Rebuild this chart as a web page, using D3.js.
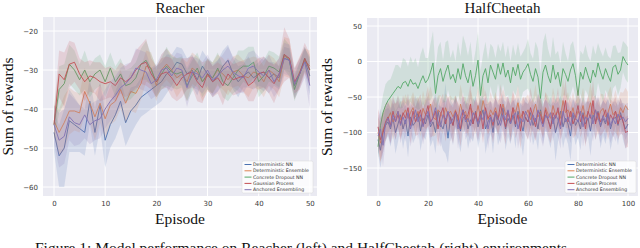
<!DOCTYPE html>
<html>
<head>
<meta charset="utf-8">
<script src="https://cdn.jsdelivr.net/npm/d3@7"></script>
<style>
  body { margin: 0; background: #fff; }
  svg { display: block; }
</style>
</head>
<body>
<div id="chart"></div>
<script>
// legend names + seaborn "deep" colours
const seriesNames = ["Deterministic NN", "Deterministic Ensemble", "Concrete Dropout NN", "Gaussian Process", "Anchored Ensembling"]
const seriesColors = ["#4c72b0", "#dd8452", "#55a868", "#c44e52", "#8172b3"]

// ---------------- Reacher (episodes 0..50) ----------------
const reacherTicksX = [0, 10, 20, 30, 40, 50]
const reacherTicksY = [-20, -30, -40, -50, -60]

const reacherDetNN = [-46, -52, -50, -43, -44, -45, -46, -38, -46, -39,
  -48, -44, -41.5, -38, -43.5, -40.5, -39, -37, -36, -35,
  -34, -33, -31, -30, -28, -28.5, -31, -30, -32.5, -29,
  -31, -33, -31.5, -29, -27.5, -31, -33, -31.5, -30.5, -32,
  -31, -30.5, -32, -31, -32, -27, -27.5, -34, -31, -27.5,
  -31.5]
const reacherDetEns = [-43, -46, -43.5, -40.5, -40.5, -41, -35.5, -38.5, -42, -38.5,
  -42.5, -39, -38, -35, -38.5, -35.5, -36, -33.5, -29, -29.5,
  -34, -30, -28.5, -30, -32, -31, -33, -29.5, -30.5, -33,
  -31.5, -32, -30, -31, -32.5, -30.5, -30, -31.5, -32, -30.5,
  -31, -33, -30, -31, -33, -26.5, -27, -33.5, -30.5, -27.5,
  -29]
const reacherDropout = [-44, -35, -33.5, -28.5, -30, -32.5, -30, -33, -31, -30,
  -33, -29.5, -33, -31, -34, -33.5, -32, -28.5, -27.5, -30,
  -33, -31, -29, -30.5, -31, -30.5, -34, -31.5, -29.5, -33,
  -31, -32, -29.5, -33, -34, -32, -30, -29, -29, -28,
  -33, -31.5, -29, -29.5, -30.5, -26, -27.5, -35, -31, -27,
  -30]
const reacherGP = [-44, -31, -32.5, -28.5, -28, -31, -33, -31.5, -32, -33,
  -33.5, -33, -34, -32, -33, -32, -30, -28.5, -28, -31,
  -33, -31, -30.5, -32, -34, -32, -31, -30.5, -33, -34.5,
  -31, -33, -32, -34, -31, -32.5, -32, -31.5, -34, -33,
  -31, -30.5, -32, -33.5, -31, -26, -27, -33, -31, -27,
  -30]
const reacherAnchored = [-44, -48, -47, -42, -43.5, -44, -41.5, -44, -43, -42.5,
  -40, -38, -36.5, -34.5, -33.5, -32, -29.5, -30, -30.5, -33.5,
  -32.5, -30, -29.5, -31.5, -29.5, -30, -34.5, -30.5, -31, -32,
  -30, -32.5, -31.5, -30, -29, -30.5, -31.5, -32, -29.5, -29,
  -30.5, -31.5, -30, -33, -31, -27, -27.5, -33.5, -31, -28,
  -34]

// spread of the shaded bands
const reacherDetNNStd = [5, 8, 10, 8, 7, 6, 6, 6, 6, 6,
  7, 6, 6, 6, 6, 6, 5, 5, 5, 5,
  5, 5, 5, 4, 4, 4, 4, 4, 4, 4,
  4, 4, 4, 4, 4, 4, 4, 3, 4, 3,
  3, 4, 4, 3, 3, 3, 3, 3, 3, 3,
  5]
const reacherDetEnsStd = [4, 6, 7, 6, 5, 5, 6, 5, 6, 5,
  5, 5, 5, 5, 5, 5, 5, 4, 4, 4,
  4, 4, 4, 4, 5, 4, 5, 4, 4, 5,
  4, 4, 4, 4, 4, 4, 4, 4, 5, 4,
  4, 4, 4, 4, 4, 5, 5, 4, 4, 3,
  4]
const reacherDropoutStd = [4, 6, 5, 5, 5, 4, 5, 4, 4, 4,
  4, 4, 4, 4, 4, 4, 4, 4, 5, 4,
  4, 4, 5, 4, 4, 4, 4, 4, 4, 4,
  4, 4, 4, 4, 4, 4, 5, 4, 5, 4,
  4, 4, 4, 4, 4, 4, 4, 3, 3, 3,
  3]
const reacherGPStd = [4, 6, 7, 6, 5, 4, 5, 4, 4, 5,
  4, 4, 4, 4, 4, 4, 5, 5, 6, 4,
  4, 4, 4, 5, 4, 5, 4, 4, 5, 4,
  4, 4, 4, 5, 4, 4, 4, 4, 4, 5,
  4, 4, 4, 5, 4, 7, 5, 3, 4, 4,
  4]
const reacherAnchoredStd = [5, 7, 7, 6, 6, 5, 6, 5, 5, 5,
  5, 5, 5, 5, 5, 4, 5, 5, 5, 4,
  4, 4, 5, 4, 4, 4, 5, 4, 4, 4,
  4, 4, 4, 4, 5, 4, 4, 4, 4, 4,
  4, 4, 4, 4, 4, 4, 4, 4, 4, 4,
  6]

// ---------------- HalfCheetah (episodes 0..100) ----------------
const cheetahTicksX = [0, 20, 40, 60, 80, 100]
const cheetahTicksY = [50, 0, -50, -100, -150]

const cheetahDetNN = [-110, -125, -100, -90, -85, -95, -80, -100, -88, -75,
  -95, -82, -105, -78, -90, -85, -72, -98, -80, -88,
  -75, -92, -85, -100, -70, -88, -95, -80, -108, -78,
  -90, -72, -85, -98, -80, -75, -95, -82, -88, -70,
  -92, -80, -68, -95, -85, -78, -100, -72, -90, -82,
  -65, -95, -80, -88, -75, -92, -70, -85, -98, -78,
  -85, -72, -90, -80, -95, -68, -88, -75, -82, -92,
  -78, -100, -85, -70, -92, -80, -88, -105, -75, -90,
  -82, -95, -72, -88, -80, -98, -75, -85, -70, -92,
  -80, -88, -75, -95, -82, -78, -90, -72, -85, -95,
  -88]
const cheetahDetEns = [-100, -115, -95, -88, -80, -72, -85, -78, -70, -82,
  -75, -68, -80, -72, -65, -78, -70, -84, -66, -75,
  -70, -60, -78, -82, -68, -72, -80, -65, -75, -70,
  -78, -68, -82, -60, -75, -70, -85, -65, -72, -80,
  -62, -78, -55, -70, -82, -68, -75, -65, -80, -72,
  -60, -75, -70, -85, -65, -72, -58, -80, -70, -76,
  -68, -82, -72, -60, -78, -70, -85, -65, -74, -80,
  -62, -75, -70, -80, -55, -72, -68, -78, -65, -82,
  -70, -76, -62, -80, -72, -58, -75, -68, -82, -70,
  -66, -78, -72, -60, -75, -70, -80, -65, -72, -62,
  -68]
const cheetahDropout = [-120, -90, -72, -62, -55, -50, -45, -40, -35, -38,
  -30, -28, -35, -25, -32, -30, -38, -28, -20, -30,
  -25, -15, -2, -45, -20, -10, -28, -15, -5, -25,
  -18, -30, -10, -25, -3, -20, -30, -12, -35, -20,
  2, -48, -20, -10, -30, -5, -15, -25, -3, -18,
  -2, -22, -12, -30, -8, -20, -4, -25, -15, -10,
  -3, -18, -28, -10, -22, -52, -15, -5, -20, -30,
  -5, -25, -15, -35, -10, -18, -28, -12, -3, -20,
  -48, -15, -25, -8, -20, -30, -12, -22, -2, -15,
  -25, -10, -20, -28, -8, -5, -18, -12, 7, 0,
  -5]
const cheetahGP = [-92, -110, -100, -85, -78, -90, -70, -85, -75, -88,
  -72, -80, -65, -90, -70, -85, -78, -68, -90, -75,
  -62, -85, -80, -70, -95, -75, -65, -88, -72, -80,
  -90, -70, -78, -95, -68, -82, -75, -60, -88, -72,
  -85, -70, -95, -65, -80, -75, -90, -70, -82, -60,
  -78, -92, -70, -85, -65, -88, -75, -98, -70, -80,
  -85, -65, -78, -92, -70, -75, -88, -68, -82, -95,
  -72, -80, -65, -90, -75, -55, -85, -70, -88, -78,
  -62, -85, -75, -95, -70, -80, -55, -88, -72, -85,
  -78, -68, -90, -75, -82, -70, -88, -76, -84, -100,
  -98]
const cheetahAnchored = [-105, -95, -118, -88, -80, -92, -75, -85, -70, -90,
  -78, -88, -72, -95, -82, -68, -85, -75, -92, -80,
  -70, -88, -78, -65, -85, -92, -75, -82, -70, -88,
  -80, -72, -95, -78, -68, -85, -80, -90, -72, -78,
  -88, -75, -82, -70, -95, -78, -85, -72, -80, -90,
  -75, -82, -68, -88, -78, -72, -95, -80, -85, -70,
  -78, -90, -75, -85, -68, -82, -92, -76, -80, -72,
  -88, -75, -82, -95, -70, -85, -78, -90, -72, -80,
  -85, -70, -92, -78, -82, -75, -88, -68, -80, -90,
  -76, -85, -72, -90, -80, -88, -74, -82, -78, -85,
  -80]

const cheetahDetNNStd = [20, 25, 28, 22, 20, 25, 22, 30, 25, 20,
  28, 22, 30, 20, 25, 22, 20, 28, 25, 22,
  20, 28, 25, 30, 22, 25, 30, 50, 35, 25,
  28, 22, 25, 30, 22, 20, 28, 25, 25, 22,
  30, 25, 20, 35, 25, 22, 30, 20, 28, 25,
  20, 30, 25, 28, 22, 30, 20, 25, 35, 22,
  25, 20, 28, 25, 30, 20, 28, 22, 25, 30,
  22, 40, 28, 22, 30, 25, 28, 35, 22, 28,
  25, 30, 22, 28, 25, 35, 22, 25, 20, 30,
  25, 28, 22, 30, 25, 22, 28, 20, 25, 28,
  25]
const cheetahDetEnsStd = [22, 28, 25, 22, 20, 22, 25, 20, 22, 25,
  20, 22, 25, 20, 22, 25, 20, 22, 25, 20,
  22, 25, 28, 22, 20, 25, 22, 20, 25, 22,
  25, 20, 22, 28, 25, 20, 22, 25, 20, 22,
  28, 22, 25, 20, 22, 25, 20, 22, 25, 20,
  22, 25, 20, 28, 22, 20, 25, 22, 20, 25,
  22, 25, 20, 28, 22, 25, 20, 22, 25, 20,
  25, 22, 20, 25, 30, 22, 25, 20, 22, 25,
  20, 22, 25, 20, 22, 28, 25, 20, 22, 25,
  20, 22, 28, 25, 22, 30, 25, 22, 28, 25,
  25]
const cheetahDropoutStd = [15, 20, 25, 30, 28, 25, 30, 35, 30, 28,
  35, 30, 28, 32, 30, 35, 30, 38, 40, 35,
  30, 40, 45, 35, 40, 38, 30, 42, 35, 30,
  35, 30, 38, 32, 40, 45, 38, 40, 30, 35,
  40, 35, 30, 38, 32, 30, 35, 30, 28, 32,
  30, 28, 35, 30, 32, 28, 30, 32, 28, 30,
  35, 30, 32, 38, 40, 35, 42, 45, 38, 35,
  40, 35, 30, 32, 38, 30, 28, 35, 32, 30,
  28, 30, 35, 32, 28, 30, 35, 32, 28, 30,
  32, 30, 28, 32, 30, 28, 30, 25, 22, 25,
  25]
const cheetahGPStd = [25, 30, 28, 25, 22, 25, 22, 25, 20, 22,
  25, 22, 20, 25, 22, 20, 25, 22, 20, 25,
  28, 22, 25, 20, 25, 22, 20, 25, 22, 20,
  25, 22, 20, 25, 22, 20, 25, 28, 22, 20,
  25, 22, 20, 25, 22, 20, 25, 22, 20, 28,
  22, 25, 20, 22, 25, 20, 22, 25, 20, 22,
  25, 28, 22, 20, 25, 22, 20, 25, 22, 20,
  25, 22, 28, 20, 22, 30, 25, 22, 20, 25,
  28, 22, 20, 25, 22, 20, 30, 22, 25, 20,
  22, 25, 20, 22, 25, 20, 22, 25, 20, 22,
  22]
const cheetahAnchoredStd = [25, 28, 30, 25, 22, 25, 22, 25, 22, 25,
  22, 25, 20, 25, 22, 20, 25, 22, 25, 22,
  20, 25, 22, 20, 25, 28, 22, 25, 20, 25,
  22, 20, 28, 22, 20, 25, 22, 25, 20, 22,
  25, 22, 25, 20, 28, 22, 25, 20, 22, 25,
  22, 25, 20, 25, 22, 20, 28, 22, 25, 20,
  22, 25, 20, 25, 22, 25, 28, 22, 20, 22,
  25, 22, 25, 28, 20, 25, 22, 25, 20, 22,
  25, 20, 28, 22, 25, 20, 25, 22, 20, 25,
  22, 25, 20, 25, 22, 25, 20, 22, 20, 25,
  22]

const captionText = "Figure 1: Model performance on Reacher (left) and HalfCheetah (right) environments."

const W = 640, H = 248
const svg = d3.select("#chart").append("svg")
  .attr("width", W)
  .attr("height", H)

function drawPanel(cfg) {
  const x = d3.scaleLinear().domain(cfg.xDomain).range([cfg.left, cfg.right])
  const y = d3.scaleLinear().domain(cfg.yDomain).range([cfg.bottom, cfg.top])
  const g = svg.append("g")

  // seaborn darkgrid background
  g.append("rect")
    .attr("x", cfg.left).attr("y", cfg.top)
    .attr("width", cfg.right - cfg.left).attr("height", cfg.bottom - cfg.top)
    .attr("fill", "#eaeaf2")

  g.selectAll(".gx").data(cfg.ticksX).enter().append("line")
    .attr("x1", d => x(d)).attr("x2", d => x(d))
    .attr("y1", cfg.top).attr("y2", cfg.bottom)
    .attr("stroke", "#fff").attr("stroke-width", 1)
  g.selectAll(".gy").data(cfg.ticksY).enter().append("line")
    .attr("x1", cfg.left).attr("x2", cfg.right)
    .attr("y1", d => y(d)).attr("y2", d => y(d))
    .attr("stroke", "#fff").attr("stroke-width", 1)

  // bands + lines, one series at a time like seaborn
  const episodes = d3.range(cfg.means[0].length)
  const clipId = "clip" + cfg.left
  svg.append("clipPath").attr("id", clipId).append("rect")
    .attr("x", cfg.left).attr("y", cfg.top)
    .attr("width", cfg.right - cfg.left).attr("height", cfg.bottom - cfg.top)
  const plot = g.append("g").attr("clip-path", `url(#${clipId})`)

  cfg.means.forEach((m, i) => {
    const s = cfg.stds[i]
    const area = d3.area()
      .x(e => x(e))
      .y0(e => y(m[e] - s[e]))
      .y1(e => y(m[e] + s[e]))
    plot.append("path")
      .attr("d", area(episodes))
      .attr("fill", seriesColors[i])
      .attr("fill-opacity", 0.17)
    const line = d3.line().x(e => x(e)).y(e => y(m[e]))
    plot.append("path")
      .attr("d", line(episodes))
      .attr("fill", "none")
      .attr("stroke", seriesColors[i])
      .attr("stroke-width", 0.9)
  })

  // axes, no tick marks
  const xAxis = g.append("g")
    .attr("transform", `translate(0,${cfg.bottom})`)
    .call(d3.axisBottom(x).tickValues(cfg.ticksX).tickSize(0).tickPadding(5))
  const yAxis = g.append("g")
    .attr("transform", `translate(${cfg.left},0)`)
    .call(d3.axisLeft(y).tickValues(cfg.ticksY).tickSize(0).tickPadding(5))
  ;[xAxis, yAxis].forEach(a => {
    a.select(".domain").remove()
    a.selectAll("text")
      .attr("font-family", "DejaVu Sans, sans-serif")
      .attr("font-size", 7)
      .attr("fill", "#3a3a3a")
  })

  // titles
  const cx = (cfg.left + cfg.right) / 2
  svg.append("text")
    .attr("x", cx).attr("y", 13)
    .attr("text-anchor", "middle")
    .attr("font-family", "Liberation Serif, serif")
    .attr("font-size", 15)
    .attr("fill", "#111")
    .text(cfg.title)
  svg.append("text")
    .attr("x", cx).attr("y", 224)
    .attr("text-anchor", "middle")
    .attr("font-family", "Liberation Serif, serif")
    .attr("font-size", 15.5)
    .attr("fill", "#111")
    .text("Episode")
  svg.append("text")
    .attr("transform", `translate(${cfg.yLabelX},${(cfg.top + cfg.bottom) / 2}) rotate(-90)`)
    .attr("text-anchor", "middle")
    .attr("font-family", "Liberation Serif, serif")
    .attr("font-size", 15.5)
    .attr("fill", "#111")
    .text("Sum of rewards")

  // legend box
  const lw = 71, lh = 32
  const lx = cfg.right - lw - cfg.legendInset, ly = cfg.bottom - lh - 3
  const leg = g.append("g").attr("transform", `translate(${lx},${ly})`)
  leg.append("rect")
    .attr("width", lw).attr("height", lh)
    .attr("rx", 1.5)
    .attr("fill", "#fff").attr("fill-opacity", 0.8)
    .attr("stroke", "#d8d8d8").attr("stroke-width", 0.5)
  seriesNames.forEach((name, i) => {
    const ry = 3.5 + i * 6.3
    leg.append("line")
      .attr("x1", 2.5).attr("x2", 9.5)
      .attr("y1", ry).attr("y2", ry)
      .attr("stroke", seriesColors[i]).attr("stroke-width", 1)
    leg.append("text")
      .attr("x", 11).attr("y", ry + 1.6)
      .attr("font-family", "DejaVu Sans, sans-serif")
      .attr("font-size", 4.7)
      .attr("fill", "#333")
      .text(name)
  })
}

drawPanel({
  title: "Reacher",
  left: 43, right: 317, top: 17, bottom: 196,
  xDomain: [-2.15, 51.4], yDomain: [-62.3, -16.4],
  ticksX: reacherTicksX, ticksY: reacherTicksY,
  yLabelX: 13, legendInset: 4,
  means: [reacherDetNN, reacherDetEns, reacherDropout, reacherGP, reacherAnchored],
  stds: [reacherDetNNStd, reacherDetEnsStd, reacherDropoutStd, reacherGPStd, reacherAnchoredStd]
})

drawPanel({
  title: "HalfCheetah",
  left: 367, right: 638, top: 18, bottom: 196,
  xDomain: [-4.4, 104], yDomain: [-189.4, 61.3],
  ticksX: cheetahTicksX, ticksY: cheetahTicksY,
  yLabelX: 332, legendInset: 2,
  means: [cheetahDetNN, cheetahDetEns, cheetahDropout, cheetahGP, cheetahAnchored],
  stds: [cheetahDetNNStd, cheetahDetEnsStd, cheetahDropoutStd, cheetahGPStd, cheetahAnchoredStd]
})

// caption, cut off by the bottom edge as in the source crop
svg.append("text")
  .attr("x", 35).attr("y", 253)
  .attr("font-family", "Liberation Serif, serif")
  .attr("font-size", 15.5)
  .attr("fill", "#111")
  .text(captionText)
</script>
</body>
</html>
